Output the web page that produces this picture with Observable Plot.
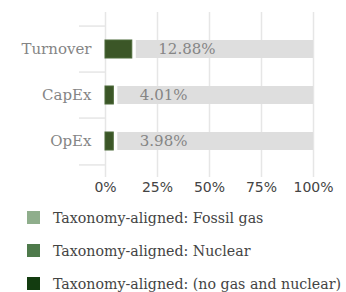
<!DOCTYPE html>
<html><head><meta charset="utf-8">
<script src="https://cdn.jsdelivr.net/npm/d3@7"></script>
<script src="https://cdn.jsdelivr.net/npm/@observablehq/plot@0.6"></script>
<style>
html,body{margin:0;padding:0;background:#fff;}
#legend{margin:1px 0 0 0;padding:0;}
.row{display:flex;align-items:center;height:33px;font-family:"DejaVu Serif",serif;font-size:14.2px;line-height:16px;color:#444;}
.sw{width:13px;height:13px;margin-left:27px;margin-right:13px;}
</style>
</head><body>
<div id="chart"></div>
<div id="legend"></div>
<script>
const categories = ["Turnover", "CapEx", "OpEx"];
const fossilGas = [0, 0, 0];
const nuclear = [0, 0, 0];
const alignedOther = [12.88, 4.01, 3.98];
const xTicks = [0, 25, 50, 75, 100];
const seriesNames = ["Taxonomy-aligned: Fossil gas", "Taxonomy-aligned: Nuclear", "Taxonomy-aligned: (no gas and nuclear)"];
const legendColors = ["#8fae8c", "#4e7a4b", "#133c10"];
const barColors = ["#8fae8c", "#4e7a4b", "#3b5627"];

const rows = [];
categories.forEach((c, i) => {
  rows.push({cat: c, series: seriesNames[0], v: fossilGas[i]});
  rows.push({cat: c, series: seriesNames[1], v: nuclear[i]});
  rows.push({cat: c, series: seriesNames[2], v: alignedOther[i]});
});
const totals = categories.map((c, i) => ({cat: c, total: fossilGas[i] + nuclear[i] + alignedOther[i]}));

const W = 346, H = 200, mt = 12, mb = 23, ml = 105, mr = 33;
const step = (H - mt - mb) / (3 + 2 * 0.26);
const chart = Plot.plot({
  width: W, height: H,
  marginTop: mt, marginBottom: mb, marginLeft: ml, marginRight: mr,
  style: {fontFamily: "DejaVu Sans, sans-serif", fontSize: "14px", background: "#fff"},
  x: {domain: [0, 100], axis: null},
  y: {domain: categories, paddingInner: 0, paddingOuter: 0.26, axis: null},
  color: {domain: seriesNames, range: barColors},
  marks: [
    Plot.ruleX(xTicks, {x: d => d, stroke: "#e6e6e6", strokeWidth: 1.5}),
    Plot.ruleY(categories, {y: d => d, x1: -12.5, x2: 0, dy: -step / 2, stroke: "#e6e6e6", strokeWidth: 1.5, clip: false}),
    Plot.ruleY(categories.slice(-1), {y: d => d, x1: -12.5, x2: 0, dy: step / 2, stroke: "#e6e6e6", strokeWidth: 1.5, clip: false}),
    Plot.barX(totals, {y: "cat", x1: "total", x2: 100, insetLeft: 4, insetTop: 14, insetBottom: 14, fill: "#dedede"}),
    Plot.barX(rows.filter(d => d.v > 0), Plot.stackX({y: "cat", x: "v", order: seriesNames, fill: "series", stroke: "#4d6a3a", strokeWidth: 1, insetTop: 14, insetBottom: 14})),
    Plot.text(totals, {y: "cat", x: "total", text: d => d.total.toFixed(2) + "%", textAnchor: "start", dx: 26, fill: "#858585", fontFamily: "DejaVu Serif, serif", fontSize: 15}),
    Plot.axisY({tickSize: 0, tickPadding: 14, color: "#858585", fontFamily: "DejaVu Serif, serif", fontSize: 15, label: null}),
    Plot.axisX({ticks: xTicks, tickSize: 0, tickPadding: 5, tickFormat: d => d + "%", color: "#444", fontSize: 14, label: null})
  ]
});
document.getElementById("chart").appendChild(chart);

const lg = document.getElementById("legend");
seriesNames.forEach((n, i) => {
  const r = document.createElement("div"); r.className = "row";
  const s = document.createElement("div"); s.className = "sw"; s.style.background = legendColors[i];
  const t = document.createElement("span"); t.textContent = n;
  r.appendChild(s); r.appendChild(t); lg.appendChild(r);
});
</script>
</body></html>
